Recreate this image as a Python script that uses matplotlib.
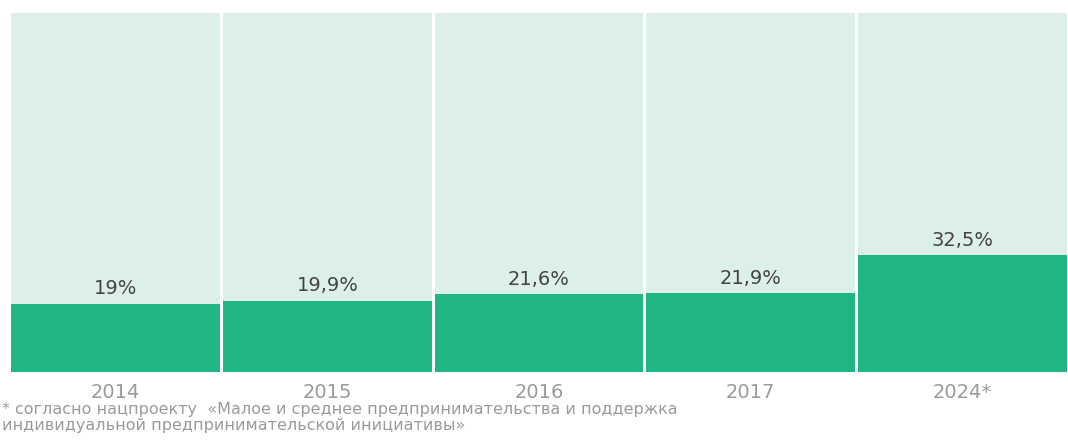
import matplotlib.pyplot as plt

# Share of small and medium business in GDP, %
years = ["2014", "2015", "2016", "2017", "2024*"]
shares = [19.0, 19.9, 21.6, 21.9, 32.5]
labels = ["19%", "19,9%", "21,6%", "21,9%", "32,5%"]
footnote = ("* согласно нацпроекту  «Малое и среднее предпринимательства и поддержка\n"
            "индивидуальной предпринимательской инициативы»")

green = "#1fb584"
pale = "#dcefe9"

fig = plt.figure(figsize=(10.68, 4.41), dpi=100)
ax = fig.add_axes([10 / 1068, 69 / 441, 1058 / 1068, 359 / 441])

x = range(len(years))
ax.bar(x, [100] * len(years), width=0.986, color=pale, zorder=1)
ax.bar(x, shares, width=0.986, color=green, zorder=2)

for i, (v, t) in enumerate(zip(shares, labels)):
    ax.annotate(t, (i, v), xytext=(0, 4), textcoords="offset points",
                ha="center", va="bottom", fontsize=14, color="#444444")

ax.set_xlim(-0.5, 4.5)
ax.set_ylim(0, 100)
ax.set_xticks(list(x))
ax.set_xticklabels(years, fontsize=14, color="#9a9a9a")
ax.tick_params(axis="x", length=0, pad=8)
ax.set_yticks([])
for s in ax.spines.values():
    s.set_visible(False)

fig.text(2 / 1068, 1 - 402 / 441, footnote, ha="left", va="top",
         fontsize=11.5, color="#9a9a9a", linespacing=1.05)

fig.savefig("out.png", dpi=100)
